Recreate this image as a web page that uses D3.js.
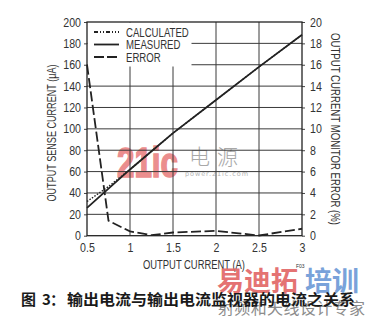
<!DOCTYPE html>
<html><head><meta charset="utf-8">
<script src="https://cdn.jsdelivr.net/npm/d3@7"></script>
<style>
html,body{margin:0;padding:0;background:#fff;}
svg{display:block;}
.nar{font-family:"Liberation Sans","Arial",sans-serif;}
</style></head>
<body><svg id="c" width="367" height="321"></svg>
<script>
const currents = [0.5, 0.75, 1, 1.25, 1.5, 2, 2.5, 3];
const measured = [26, 44, 62, 79, 96, 127, 158, 188];
const calculated = [32, 46, 62, 79, 96, 127, 158, 188];
const errorPct = [16, 1.4, 0.4, 0.05, 0.3, 0.45, 0.02, 0.65];
const xTicks = [0.5, 1, 1.5, 2, 2.5, 3];
const yLeftTicks = [0,20,40,60,80,100,120,140,160,180,200];
const yRightTicks = [0,2,4,6,8,10,12,14,16,18,20];
const legendNames = ["CALCULATED", "MEASURED", "ERROR"];

const svg = d3.select("#c");
const L = 87, R = 302, T = 22, B = 235.7;
const x = d3.scaleLinear().domain([0.5, 3]).range([L, R]);
const yL = d3.scaleLinear().domain([0, 200]).range([B, T]);
const yR = d3.scaleLinear().domain([0, 20]).range([B, T]);

function narrow(sel, f) {
  sel.each(function () {
    const w = this.getComputedTextLength();
    d3.select(this).attr("textLength", w * f).attr("lengthAdjust", "spacingAndGlyphs");
  });
}
function fitTo(sel, w) {
  sel.attr("textLength", w).attr("lengthAdjust", "spacingAndGlyphs");
}

// watermarks (behind)
const wm = svg.append("text").attr("x", 117).attr("y", 177).attr("class","nar")
  .attr("font-size", 43).attr("font-weight", "bold").attr("fill", "#eb8e8e")
  .attr("stroke", "#eb8e8e").attr("stroke-width", 1.6).text("21ic");
fitTo(wm, 61);
svg.append("text").attr("x", 189).attr("y", 164)
  .attr("font-family", "Noto Sans CJK SC").attr("font-weight", 300).attr("font-size", 21).attr("fill", "#a8a8a8")
  .attr("letter-spacing", 7).text("电源");
svg.append("text").attr("x", 185).attr("y", 176)
  .attr("font-family", "DejaVu Sans").attr("font-size", 6.5).attr("fill", "#b4b4b4")
  .attr("textLength", 63).text("power.21ic.com");

// grid
const g = svg.append("g");
g.selectAll("line.v").data(xTicks.slice(1, -1)).enter().append("line")
  .attr("x1", d => x(d)).attr("x2", d => x(d)).attr("y1", T).attr("y2", B)
  .attr("stroke", "#3a3a3a").attr("stroke-width", 1);
g.selectAll("line.h").data(yLeftTicks.slice(1, -1)).enter().append("line")
  .attr("x1", L).attr("x2", R).attr("y1", d => yL(d)).attr("y2", d => yL(d))
  .attr("stroke", "#3a3a3a").attr("stroke-width", 1);

// axes (ticks outward)
const axL = svg.append("g").attr("transform", `translate(${L},0)`)
  .call(d3.axisLeft(yL).tickValues(yLeftTicks).tickSize(3).tickPadding(3));
const axR = svg.append("g").attr("transform", `translate(${R},0)`)
  .call(d3.axisRight(yR).tickValues(yRightTicks).tickSize(3).tickPadding(5));
const axB = svg.append("g").attr("transform", `translate(0,${B})`)
  .call(d3.axisBottom(x).tickValues(xTicks).tickSize(0).tickPadding(7).tickFormat(d3.format("")));
[axL, axR, axB].forEach(a => {
  a.select(".domain").remove();
  a.selectAll("text").attr("class","nar").attr("font-size", 12.5).attr("fill", "#333");
  a.selectAll("line").attr("stroke", "#444");
  narrow(a.selectAll("text"), 0.85);
});

// legend background
svg.append("rect").attr("x", L + 0.5).attr("y", T + 0.5).attr("width", 104).attr("height", 44).attr("fill", "#fff");

// lines
const lineL = d3.line().x((d, i) => x(currents[i])).y(d => yL(d));
const lineR = d3.line().x((d, i) => x(currents[i])).y(d => yR(d));
svg.append("path").attr("d", lineL(calculated)).attr("fill", "none").attr("stroke", "#222")
  .attr("stroke-width", 1.4).attr("stroke-dasharray", "1.5,1.5");
svg.append("path").attr("d", lineL(measured)).attr("fill", "none").attr("stroke", "#222").attr("stroke-width", 1.8);
svg.append("path").attr("d", lineR(errorPct)).attr("fill", "none").attr("stroke", "#222")
  .attr("stroke-width", 1.8).attr("stroke-dasharray", "10,3.5");

// border
svg.append("rect").attr("x", L).attr("y", T).attr("width", R - L).attr("height", B - T)
  .attr("fill", "none").attr("stroke", "#222").attr("stroke-width", 1.3);

// legend
const dashes = ["4,2,1,2,1,2", null, "10,3"];
const ly = [32, 44.5, 57];
legendNames.forEach((n, i) => {
  svg.append("line").attr("x1", 94).attr("x2", 119).attr("y1", ly[i]).attr("y2", ly[i])
    .attr("stroke", "#222").attr("stroke-width", 1.8).attr("stroke-dasharray", dashes[i]);
  const t = svg.append("text").attr("class","nar").attr("x", 126).attr("y", ly[i] + 4.5)
    .attr("font-size", 12).attr("fill", "#333").text(n);
  narrow(t, 0.8);
});

// axis titles
fitTo(svg.append("text").attr("class","nar").attr("x", 194).attr("y", 269).attr("text-anchor", "middle")
  .attr("font-size", 12).attr("fill", "#333").text("OUTPUT CURRENT (A)"), 102);
fitTo(svg.append("text").attr("class","nar").attr("transform", "translate(56,133) rotate(-90)")
  .attr("text-anchor", "middle").attr("font-size", 12).attr("fill", "#333").text("OUTPUT SENSE CURRENT (μA)"), 137);
fitTo(svg.append("text").attr("class","nar").attr("transform", "translate(331,129) rotate(90)")
  .attr("text-anchor", "middle").attr("font-size", 12).attr("fill", "#333").text("OUTPUT CURRENT MONITOR ERROR (%)"), 192);
svg.append("text").attr("class","nar").attr("x", 296).attr("y", 268).attr("font-size", 5).attr("fill", "#333").text("F03");

// bottom watermark
svg.append("text").attr("x", 217).attr("y", 291).attr("font-family", "Noto Sans CJK SC")
  .attr("font-weight", "bold").attr("font-size", 27).attr("fill", "#e26464").attr("opacity", 0.9).text("易迪拓");
svg.append("text").attr("x", 305).attr("y", 291).attr("font-family", "Noto Sans CJK SC")
  .attr("font-weight", "bold").attr("font-size", 27).attr("fill", "#6b98d6").attr("opacity", 0.9).text("培训");
svg.append("text").attr("x", 218).attr("y", 314).attr("font-family", "Noto Sans CJK SC")
  .attr("font-size", 16).attr("fill", "#8c8c8c").attr("textLength", 147).text("射频和天线设计专家");

// caption
const cap = svg.append("g").attr("font-family", "Noto Sans CJK SC").attr("font-weight", "bold").attr("fill", "#1a1a1a");
cap.append("text").attr("x", 21).attr("y", 305).attr("font-size", 15).text("图");
cap.append("text").attr("x", 42).attr("y", 305).attr("font-size", 15).text("3");
cap.append("text").attr("x", 50).attr("y", 305).attr("font-size", 15).text("：");
cap.append("text").attr("x", 67).attr("y", 305).attr("font-size", 15).attr("textLength", 288)
  .attr("lengthAdjust", "spacingAndGlyphs").text("输出电流与输出电流监视器的电流之关系");
</script></body></html>
